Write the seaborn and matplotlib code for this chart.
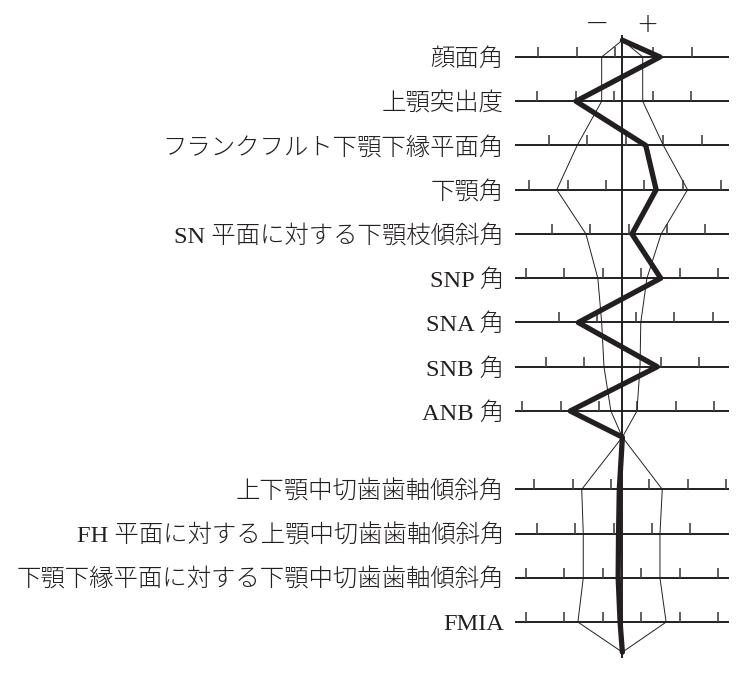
import numpy as np
import pandas as pd
import matplotlib
matplotlib.use("Agg")
import matplotlib.pyplot as plt
import seaborn as sns

# measurement names, upper group (skeletal) and lower group (dental)
labels_upper = ["顔面角", "上顎突出度", "フランクフルト下顎下縁平面角", "下顎角",
                "SN 平面に対する下顎枝傾斜角", "SNP 角", "SNA 角", "SNB 角", "ANB 角"]
labels_lower = ["上下顎中切歯歯軸傾斜角", "FH 平面に対する上顎中切歯歯軸傾斜角",
                "下顎下縁平面に対する下顎中切歯歯軸傾斜角", "FMIA"]

# values in standard-deviation units (0 = mean)
patient_upper = [0.98, -1.21, 0.61, 0.88, 0.25, 1.00, -1.15, 0.91, -1.36]
patient_lower = [-0.08, -0.10, -0.11, -0.06]

sd_minus_upper = [-0.54, -0.54, -1.18, -1.71, -0.95, -0.64, -0.54, -0.48, -0.30]
sd_plus_upper = [0.53, 0.53, 1.07, 1.70, 1.01, 0.64, 0.48, 0.46, 0.38]
sd_minus_lower = [-1.06, -1.02, -1.02, -1.16]
sd_plus_lower = [1.04, 0.98, 0.98, 1.14]

# scale ticks of every row (same units)
row_ticks = [
    [-2.21, -1.19, -0.19, 0.81, 1.81],
    [-2.23, -1.21, -0.21, 0.79, 1.79],
    [-1.91, -0.91, 0.09, 1.07, 2.07],
    [-2.43, -1.43, -0.43, 0.57, 1.57, 2.57],
    [-1.84, -0.84, 0.16, 1.16, 2.16],
    [-2.51, -1.51, -0.51, 0.49, 1.50, 2.50],
    [-1.65, -0.65, 0.35, 1.35, 2.35],
    [-2.0, -1.0, 1.0, 2.0],
    [-2.61, -1.61, -0.61, 0.39, 1.39, 2.39],
    [-2.30, -1.30, -0.30, 0.70, 1.70, 2.70],
    [-2.23, -1.23, -0.23, 0.77, 1.77],
    [-2.51, -1.51, -0.51, 0.49, 1.50, 2.50],
    [-2.51, -1.51, -0.51, 0.49, 1.50, 2.50],
]

# vertical layout (row units)
apex_gap = 0.38
junction_gap = 0.59
lower_gap = 1.18
bottom_gap = 0.68

y_upper = np.arange(len(labels_upper), dtype=float)
y_junction = y_upper[-1] + junction_gap
y_lower = y_junction + lower_gap + np.arange(len(labels_lower))
y_top = y_upper[0] - apex_gap
y_bottom = y_lower[-1] + bottom_gap
y_rows = np.concatenate([y_upper, y_lower])


def polygon(upper, lower):
    xs = [0] + list(upper) + [0] + list(lower) + [0]
    ys = [y_top] + list(y_upper) + [y_junction] + list(y_lower) + [y_bottom]
    return pd.DataFrame({"x": xs, "y": ys})


sns.set_theme(style="white")
plt.rcParams["font.family"] = ["Liberation Serif", "Noto Sans CJK JP"]

fig = plt.figure(figsize=(7.42, 6.73), dpi=100)
ax = fig.add_axes([515 / 742, 8 / 673, 214 / 742, 645 / 673])

ink = "#231f20"
for y, ticks in zip(y_rows, row_ticks):
    ax.axhline(y, color=ink, lw=1.4, zorder=1)
    ax.vlines(ticks, y - 0.23, y, color="#444444", lw=1.2, zorder=1)

ax.vlines(0, y_top - 0.12, y_bottom + 0.14, color=ink, lw=1.4, zorder=2)

for side_u, side_l in [(sd_minus_upper, sd_minus_lower), (sd_plus_upper, sd_plus_lower)]:
    sns.lineplot(data=polygon(side_u, side_l), x="x", y="y", sort=False,
                 estimator=None, color=ink, lw=0.7, ax=ax, zorder=3)

sns.lineplot(data=polygon(patient_upper, patient_lower), x="x", y="y", sort=False,
             estimator=None, color=ink, lw=3.8, ax=ax, zorder=4)

ax.text(-0.67, y_top - 0.36, "−", ha="center", va="center", fontsize=21, color=ink,
        family=["DejaVu Sans"], fontweight="light")
ax.text(0.64, y_top - 0.36, "+", ha="center", va="center", fontsize=19, color=ink,
        family=["DejaVu Sans"], fontweight="light")

ax.set_xlim(-2.80, 2.78)
ax.set_ylim(y_bottom + 0.29, y_top - 0.456)
ax.set_yticks(y_rows)
ax.set_yticklabels(labels_upper + labels_lower, fontsize=17.6, color=ink, fontweight="light")
ax.tick_params(axis="y", length=0, pad=8)
ax.set_xticks([])
ax.set_xlabel("")
ax.set_ylabel("")
for s in ax.spines.values():
    s.set_visible(False)

fig.savefig("out.png", dpi=100)
